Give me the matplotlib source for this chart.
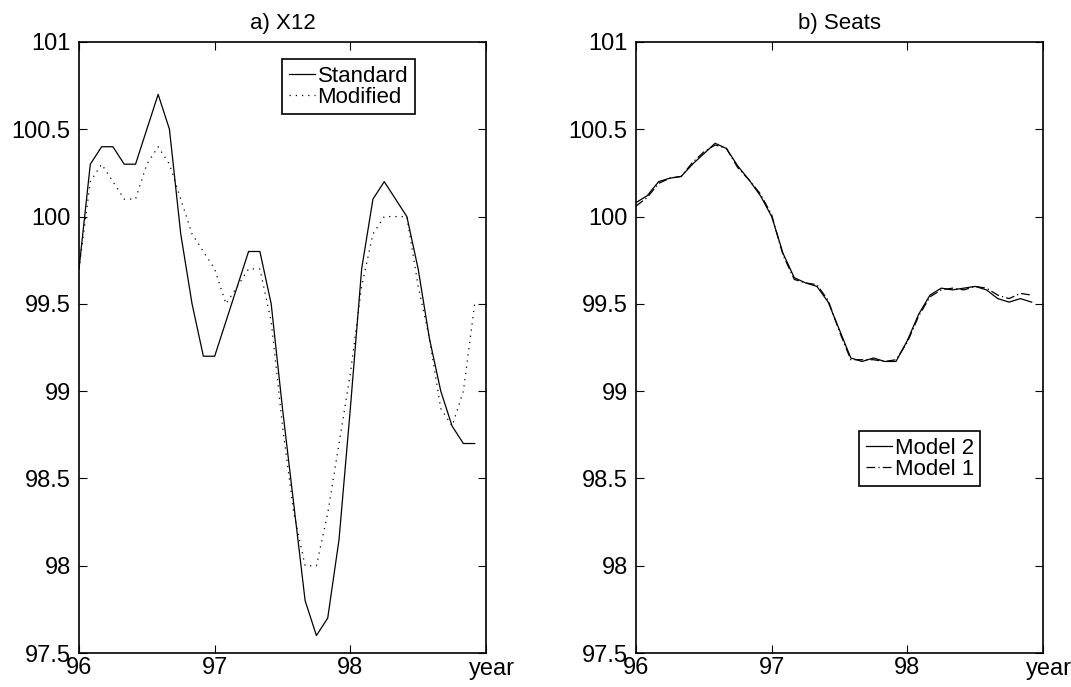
#!/usr/bin/env python
import numpy as np
import matplotlib
matplotlib.use('Agg')
from matplotlib import pyplot as plt

plt.rcParams['font.family'] = ['Liberation Sans', 'DejaVu Sans']

# monthly data, Jan 96 .. Dec 98
months = np.arange(36)
years = 96 + months / 12.0

standard = [99.7, 100.3, 100.4, 100.4, 100.3, 100.3, 100.5, 100.7, 100.5, 99.9, 99.5, 99.2,
            99.2, 99.4, 99.6, 99.8, 99.8, 99.5, 98.9, 98.35, 97.8, 97.6, 97.7, 98.15,
            98.9, 99.7, 100.1, 100.2, 100.1, 100.0, 99.7, 99.3, 99.0, 98.8, 98.7, 98.7]
modified = [99.7, 100.2, 100.3, 100.2, 100.1, 100.1, 100.3, 100.4, 100.3, 100.1, 99.9, 99.8,
            99.7, 99.5, 99.6, 99.7, 99.7, 99.4, 98.8, 98.3, 98.0, 98.0, 98.3, 98.7,
            99.1, 99.6, 99.9, 100.0, 100.0, 100.0, 99.6, 99.3, 98.9, 98.8, 99.0, 99.5]

model2 = [100.08, 100.12, 100.20, 100.22, 100.23, 100.30, 100.36, 100.42, 100.39, 100.29, 100.21, 100.12,
          100.00, 99.79, 99.65, 99.62, 99.60, 99.51, 99.35, 99.19, 99.17, 99.19, 99.17, 99.17,
          99.29, 99.44, 99.55, 99.59, 99.58, 99.59, 99.60, 99.58, 99.53, 99.51, 99.53, 99.51]
model1 = [100.06, 100.11, 100.19, 100.22, 100.23, 100.31, 100.37, 100.41, 100.39, 100.28, 100.21, 100.13,
          100.01, 99.78, 99.64, 99.62, 99.61, 99.52, 99.34, 99.18, 99.18, 99.18, 99.17, 99.18,
          99.28, 99.43, 99.54, 99.58, 99.59, 99.58, 99.60, 99.59, 99.55, 99.53, 99.56, 99.55]

yticks = [97.5, 98, 98.5, 99, 99.5, 100, 100.5, 101]
ytick_labels = ['97.5', '98', '98.5', '99', '99.5', '100', '100.5', '101']
xticks = [96, 97, 98, 99]
xtick_labels = ['96', '97', '98', '']

fig = plt.figure(figsize=(10.71, 6.87), dpi=100)
ax1 = fig.add_axes([79 / 1071, 1 - 653 / 687, 407 / 1071, 611 / 687])
ax2 = fig.add_axes([636 / 1071, 1 - 653 / 687, 407 / 1071, 611 / 687])

ax1.plot(years, standard, color='black', lw=0.9, label='Standard')
ax1.plot(years, modified, color='black', lw=0.9, linestyle=(0, (1, 4)), label='Modified')

ax2.plot(years, model2, color='black', lw=0.9, label='Model 2')
ax2.plot(years, model1, color='black', lw=0.9, linestyle=(0, (7, 2.5, 1, 2.5)), label='Model 1')

for ax, title in [(ax1, 'a) X12'), (ax2, 'b) Seats')]:
    ax.set_xlim(96, 99)
    ax.set_ylim(97.5, 101)
    ax.set_xticks(xticks)
    ax.set_xticklabels(xtick_labels)
    ax.set_yticks(yticks)
    ax.set_yticklabels(ytick_labels)
    ax.tick_params(direction='in', top=True, right=True, length=6, width=0.8,
                   labelsize=17, pad=3)
    ax.tick_params(axis='y', pad=6)
    for s in ax.spines.values():
        s.set_linewidth(1.2)
    ax.set_title(title, fontsize=16, pad=9)
    ax.text(1.015, -0.008, 'year', transform=ax.transAxes, ha='center', va='top', fontsize=17)

leg1 = ax1.legend(loc='upper left', bbox_to_anchor=((282 - 79) / 407, (653 - 59) / 611),
                  borderaxespad=0, fontsize=16, handlelength=1.2, handletextpad=0.1,
                  labelspacing=0.0, borderpad=0.3, fancybox=False, framealpha=1,
                  edgecolor='black')
leg1.get_frame().set_linewidth(1.2)

leg2 = ax2.legend(loc='upper left', bbox_to_anchor=((859 - 636) / 407, (653 - 431) / 611),
                  borderaxespad=0, fontsize=16, handlelength=1.2, handletextpad=0.1,
                  labelspacing=0.0, borderpad=0.3, fancybox=False, framealpha=1,
                  edgecolor='black')
leg2.get_frame().set_linewidth(1.2)

plt.savefig('out.png', dpi=100)
